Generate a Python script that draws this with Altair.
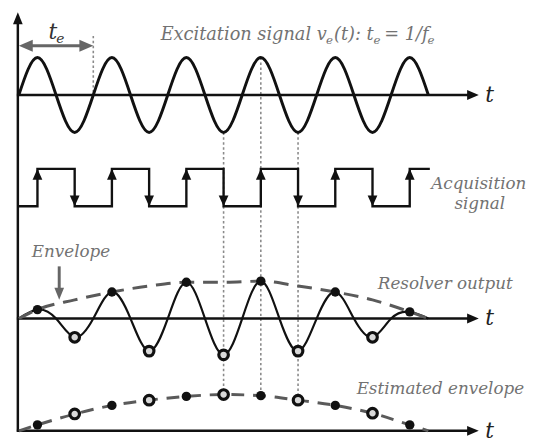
import altair as alt
import pandas as pd

# ---------------- data : time in excitation periods (t_e = 1), one sample per quarter period ----------------
t_samples = [0.0, 0.25, 0.5, 0.75, 1.0, 1.25, 1.5, 1.75, 2.0, 2.25, 2.5, 2.75,
             3.0, 3.25, 3.5, 3.75, 4.0, 4.25, 4.5, 4.75, 5.0, 5.25, 5.5]
excitation = [0, 1, 0, -1, 0, 1, 0, -1, 0, 1, 0, -1,
              0, 1, 0, -1, 0, 1, 0, -1, 0, 1, 0]
resolver = [0, 0.24, 0, -0.50, 0, 0.71, 0, -0.87, 0, 0.97, 0, -0.97,
            0, 1.00, 0, -0.87, 0, 0.71, 0, -0.50, 0, 0.18, 0]
# sampling instants (peaks / troughs of the excitation)
sample_t = [0.25, 0.75, 1.25, 1.75, 2.25, 2.75, 3.25, 3.75, 4.25, 4.75, 5.25]
sample_kind = ["peak", "trough", "peak", "trough", "peak", "trough",
               "peak", "trough", "peak", "trough", "peak"]
estimated = [0.16, 0.45, 0.68, 0.82, 0.92, 0.97, 0.94, 0.82, 0.68, 0.47, 0.16]
# acquisition (square) signal
acq_t = [0.0, 0.25, 0.75, 1.25, 1.75, 2.25, 2.75, 3.25, 3.75, 4.25, 4.75, 5.25, 5.52]
acq_level = [0, 1, 0, 1, 0, 1, 0, 1, 0, 1, 0, 1, 1]
# instants highlighted by dotted guides
guide_t = [2.75, 3.25, 3.75]

# ---------------- layout ----------------
W, H = 529, 434
PX0, PXT = 19.0, 75.6          # page x of t=0, pixels per period


def tx(px):
    return (px - PX0) / PXT


EXC, ACQ, RES, EST, GAIN = 93, 206, 320, 434, 38
INK, GREY, DARKGREY, TXT = "#111111", "#8a8a8a", "#5a5a5a", "#727272"
FONT = "DejaVu Serif"

xs = alt.Scale(domain=[tx(8), tx(8 + W)], nice=False, zero=False)
ys = alt.Scale(domain=[8 + H, 8], nice=False, zero=False)
X = lambda f="t": alt.X(f"{f}:Q", scale=xs, axis=None)
Y = lambda f="y": alt.Y(f"{f}:Q", scale=ys, axis=None)

exc_df = pd.DataFrame({"t": t_samples, "y": [EXC - GAIN * v for v in excitation]})
res_df = pd.DataFrame({"t": t_samples, "y": [RES - GAIN * v for v in resolver]})
res_at = dict(zip(t_samples, resolver))
exc_at = dict(zip(t_samples, excitation))
est_at = dict(zip(sample_t, estimated))

env_vals = [0] + [abs(res_at[t]) for t in sample_t] + [0]
env_t = [t_samples[0]] + sample_t + [t_samples[-1]]
env_df = pd.DataFrame({"t": env_t, "y": [RES - GAIN * v for v in env_vals]})
est_line_df = pd.DataFrame({"t": env_t, "y": [EST - GAIN * v for v in [0] + estimated + [0]]})

marks_df = pd.DataFrame({
    "t": sample_t * 2,
    "y": [RES - GAIN * res_at[t] for t in sample_t] + [EST - GAIN * v for v in estimated],
    "kind": sample_kind * 2,
})
dots_df = marks_df[marks_df.kind == "peak"]
rings_df = marks_df[marks_df.kind == "trough"]

acq_df = pd.DataFrame({"t": acq_t, "y": [ACQ - GAIN * v for v in acq_level]})
rise = [acq_t[i] for i in range(1, len(acq_t)) if acq_level[i] > acq_level[i - 1]]
fall = [acq_t[i] for i in range(1, len(acq_t)) if acq_level[i] < acq_level[i - 1]]

# dotted guides
guides = pd.DataFrame({
    "t": [1.0] + guide_t,
    "y": [33] + [EXC - GAIN * exc_at[t] for t in guide_t],
    "y2": [EXC] + [EST - GAIN * est_at[t] for t in guide_t],
})
guide_layer = alt.Chart(guides).mark_rule(color=GREY, strokeWidth=1.6, strokeDash=[2.5, 2.5]).encode(
    x=X(), y=Y(), y2="y2:Q")

# axes
axes = pd.DataFrame({
    "t": [tx(18), tx(17), tx(17), tx(17)],
    "t2": [tx(18), tx(476), tx(476), tx(476)],
    "y": [20, EXC, RES, EST],
    "y2": [EST + 1, EXC, RES, EST],
})
axes_layer = alt.Chart(axes).mark_rule(color=INK, strokeWidth=2.5).encode(
    x=X(), x2="t2:Q", y=Y(), y2="y2:Q")

UP = "M0,0L-0.8,2L0.8,2Z"
DOWN = "M0,0L-0.8,-2L0.8,-2Z"
RIGHT = "M0,0L-2,-0.85L-2,0.85Z"
LEFT = "M0,0L2,-0.85L2,0.85Z"


def heads(df, shape, size, color):
    return alt.Chart(pd.DataFrame(df)).mark_point(
        shape=shape, size=size, filled=True, opacity=1, color=color, strokeWidth=0).encode(x=X(), y=Y())


axis_heads = alt.layer(
    heads({"t": [tx(18)], "y": [9]}, UP, 150, INK),
    heads({"t": [tx(486)] * 3, "y": [EXC, RES, EST]}, RIGHT, 140, INK),
)

# t_e double arrow
te_rule = alt.Chart(pd.DataFrame({"t": [0.12], "t2": [0.88], "y": [43]})).mark_rule(
    color="#666666", strokeWidth=3.2).encode(x=X(), x2="t2:Q", y=Y())
te_heads = alt.layer(
    heads({"t": [0.0], "y": [43]}, LEFT, 200, "#666666"),
    heads({"t": [1.0], "y": [43]}, RIGHT, 200, "#666666"),
)

exc_layer = alt.Chart(exc_df).mark_line(color=INK, strokeWidth=3, interpolate="natural").encode(x=X(), y=Y())
acq_layer = alt.Chart(acq_df).mark_line(color=INK, strokeWidth=2.4, interpolate="step-after").encode(x=X(), y=Y())
acq_heads = alt.layer(
    heads({"t": rise, "y": [ACQ - GAIN] * len(rise)}, "M0,0L-0.9,2L0.9,2Z", 121, INK),
    heads({"t": fall, "y": [ACQ] * len(fall)}, "M0,0L-0.9,-2L0.9,-2Z", 121, INK),
)
res_layer = alt.Chart(res_df).mark_line(color=INK, strokeWidth=2.2, interpolate="natural").encode(x=X(), y=Y())
env_layer = alt.Chart(env_df).mark_line(color=DARKGREY, strokeWidth=3, strokeDash=[15, 9],
                                        interpolate="monotone").encode(x=X(), y=Y())
est_layer = alt.Chart(est_line_df).mark_line(color=DARKGREY, strokeWidth=3, strokeDash=[13, 9],
                                             interpolate="monotone").encode(x=X(), y=Y())

dots = alt.Chart(dots_df).mark_point(filled=True, shape="circle", size=90, color=INK, opacity=1).encode(x=X(), y=Y())
rings = alt.Chart(rings_df).mark_point(filled=False, shape="circle", size=95, stroke=INK, strokeWidth=3.2,
                                       fill="#d9d9d9", fillOpacity=1, opacity=1).encode(x=X(), y=Y())

# "Envelope" pointer arrow
env_arrow = alt.layer(
    alt.Chart(pd.DataFrame({"t": [tx(60)], "y": [267], "y2": [291]})).mark_rule(
        color="#666666", strokeWidth=3).encode(x=X(), y=Y(), y2="y2:Q"),
    heads({"t": [tx(60)], "y": [301]}, DOWN, 150, "#666666"),
)

# texts
texts_left = pd.DataFrame([
    {"t": tx(163), "y": 37, "text": "Excitation signal v", "size": 18, "color": TXT},
    {"t": tx(331), "y": 41, "text": "e", "size": 12, "color": TXT},
    {"t": tx(339), "y": 37, "text": "(t): t", "size": 18, "color": TXT},
    {"t": tx(379), "y": 41, "text": "e", "size": 12, "color": TXT},
    {"t": tx(390), "y": 37, "text": "= 1/f", "size": 18, "color": TXT},
    {"t": tx(434), "y": 41, "text": "e", "size": 12, "color": TXT},
    {"t": tx(49), "y": 36, "text": "t", "size": 22, "color": "#333333"},
    {"t": tx(57), "y": 40, "text": "e", "size": 14, "color": "#333333"},
])
texts_center = pd.DataFrame([
    {"t": tx(497), "y": 100, "text": "t", "size": 22, "color": "#222222"},
    {"t": tx(497), "y": 327, "text": "t", "size": 22, "color": "#222222"},
    {"t": tx(497), "y": 441, "text": "t", "size": 22, "color": "#222222"},
    {"t": tx(486), "y": 188, "text": "Acquisition", "size": 17, "color": TXT},
    {"t": tx(487), "y": 209, "text": "signal", "size": 17, "color": TXT},
    {"t": tx(72), "y": 257, "text": "Envelope", "size": 17, "color": TXT},
    {"t": tx(452), "y": 290, "text": "Resolver output", "size": 17, "color": TXT},
    {"t": tx(447), "y": 397, "text": "Estimated envelope", "size": 17, "color": TXT},
])


def text_layer(df, align):
    return alt.Chart(df).mark_text(font=FONT, fontStyle="italic", align=align, baseline="alphabetic").encode(
        x=X(), y=Y(), text="text:N",
        size=alt.Size("size:Q", scale=None, legend=None),
        color=alt.Color("color:N", scale=None, legend=None))


chart = alt.layer(
    guide_layer, axes_layer, axis_heads, te_rule, te_heads,
    exc_layer, acq_layer, acq_heads, res_layer, env_layer, est_layer,
    dots, rings, env_arrow,
    text_layer(texts_left, "left"), text_layer(texts_center, "center"),
).properties(width=W, height=H, padding=0, autosize="none").configure_view(stroke=None)

chart.save("out.html", embed_options={"renderer": "svg", "actions": False})
